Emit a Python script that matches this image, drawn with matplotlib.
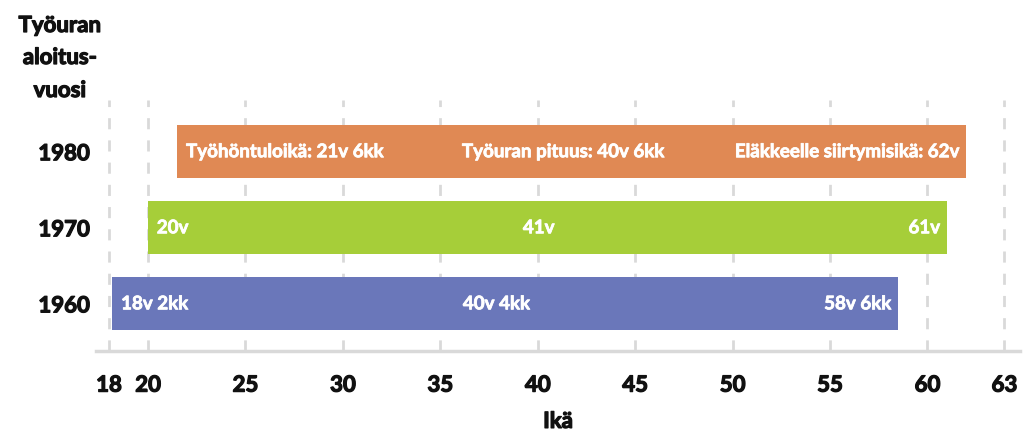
import matplotlib
matplotlib.use("Agg")
import matplotlib.pyplot as plt
import matplotlib.patheffects as pe

years = ["1960", "1970", "1980"]
start_age = [18 + 2/12, 20.0, 21.5]
end_age = [58.5, 61.0, 62.0]
start_labels = ["18v 2kk", "20v", "Työhöntuloikä: 21v 6kk"]
length_labels = ["40v 4kk", "41v", "Työuran pituus: 40v 6kk"]
end_labels = ["58v 6kk", "61v", "Eläkkeelle siirtymisikä: 62v"]
colors = ["#6A77BA", "#A6CE39", "#E08954"]
tick_values = [18, 20, 25, 30, 35, 40, 45, 50, 55, 60, 63]
tick_labels = ["18", "20", "25", "30", "35", "40", "45", "50", "55", "60", "63"]

plt.rcParams['font.family'] = ['Lato', 'DejaVu Sans']
W = "bold"
TXT = "#111111"
heavy_dark = [pe.withStroke(linewidth=0.9, foreground=TXT)]
heavy_white = [pe.withStroke(linewidth=0.55, foreground="white")]

fig = plt.figure(figsize=(10.3, 4.32), dpi=100)
ax = fig.add_axes([96/1030, 1 - 351/432, (1020 - 96)/1030, (351 - 100)/432])

# last tick is drawn at the reference's (stretched) position
tick_pos = tick_values[:-1] + [63.95]

for x in tick_pos:
    ax.axvline(x, color="#d9d9d9", lw=2, ls=(0, (4, 4)), zorder=0)

ypos = range(len(years))
BS = 13.5
for i in ypos:
    w = end_age[i] - start_age[i]
    ax.barh(i, w, left=start_age[i], height=0.70, color=colors[i], zorder=2)
    ax.text(start_age[i] + 0.45, i, start_labels[i], color="white", fontsize=BS,
            fontweight=W, va="center", ha="left", zorder=3, path_effects=heavy_white)
    ax.text((start_age[i] + end_age[i]) / 2 - 0.45, i, length_labels[i], color="white",
            fontsize=BS, fontweight=W, va="center", ha="center", zorder=3,
            path_effects=heavy_white)
    ax.text(end_age[i] - 0.35, i, end_labels[i], color="white", fontsize=BS,
            fontweight=W, va="center", ha="right", zorder=3, path_effects=heavy_white)

ax.set_xlim(17.33, 64.75)
ax.set_ylim(-0.62, 2.68)
ax.set_yticks(list(ypos))
ax.set_yticklabels(years, fontsize=16, fontweight=W, color=TXT)
ax.set_xticks(tick_pos)
ax.set_xticklabels(tick_labels, fontsize=16, fontweight=W, color=TXT)
ax.tick_params(axis="both", length=0)
ax.tick_params(axis="x", pad=17)
ax.tick_params(axis="y", pad=0)
for lab in ax.get_yticklabels():
    lab.set_horizontalalignment("center")
    lab.set_x(-0.0346)
    lab.set_path_effects(heavy_dark)
for lab in ax.get_xticklabels():
    lab.set_path_effects(heavy_dark)
for s in ["top", "right", "left"]:
    ax.spines[s].set_visible(False)
ax.spines["bottom"].set_color("#d9d9d9")
ax.spines["bottom"].set_linewidth(2.5)

xl = ax.set_xlabel("Ikä", fontsize=16, fontweight=W, labelpad=11, color=TXT)
xl.set_path_effects(heavy_dark)

for line, base in zip(["Työuran", "aloitus-", "vuosi"], [32, 64, 97]):
    fig.text(60/1030, 1 - base/432, line, fontsize=16, fontweight=W, color=TXT,
             ha="center", va="baseline", path_effects=heavy_dark)

fig.savefig("out.png", dpi=100)
